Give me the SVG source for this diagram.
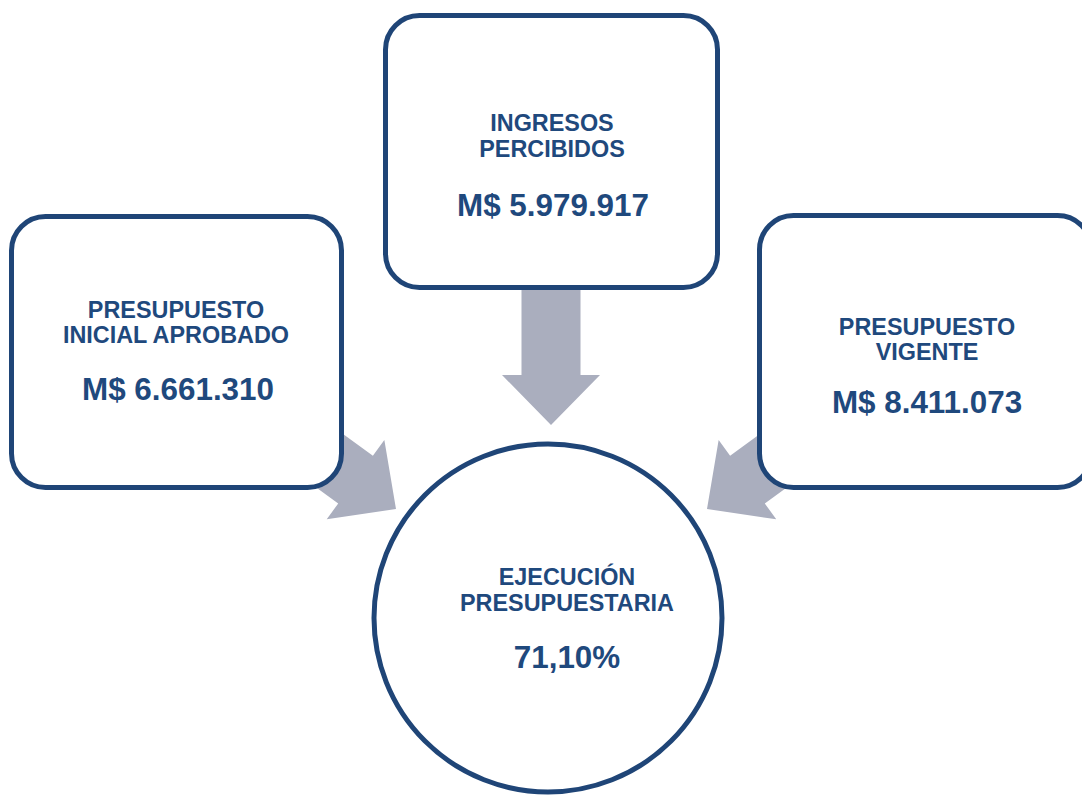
<svg xmlns="http://www.w3.org/2000/svg" width="1082" height="799" viewBox="0 0 1082 799">
<defs>
<style>
.box{fill:#ffffff;stroke:#1f4577;stroke-width:5}
.arrow{fill:#aaaebe}
.t{font-family:"Liberation Sans",Arial,sans-serif;font-weight:bold;fill:#1f497d;text-anchor:middle}
.lbl{font-size:23.4px}
.val{font-size:31.4px}
</style>
<polygon id="arr" points="0,0 -50,-49 -50,-29.5 -140,-29.5 -140,29.5 -50,29.5 -50,49"/>
</defs>
<rect width="1082" height="799" fill="#ffffff"/>
<g id="connectors">
<use href="#arr" class="arrow" transform="translate(551,425) rotate(90)"/>
<use href="#arr" class="arrow" transform="translate(396,509) rotate(36)"/>
<use href="#arr" class="arrow" transform="translate(707,509) rotate(144)"/>
</g>
<g id="node-inicial">
<rect class="box" x="11.5" y="216.5" width="330" height="271" rx="34" ry="34"/>
<text class="t lbl" x="176" y="318">PRESUPUESTO</text>
<text class="t lbl" x="176" y="343">INICIAL APROBADO</text>
<text class="t val" x="178" y="400">M$ 6.661.310</text>
</g>
<g id="node-ingresos">
<rect class="box" x="385.5" y="15.5" width="332" height="272" rx="34" ry="34"/>
<text class="t lbl" x="552" y="131">INGRESOS</text>
<text class="t lbl" x="552" y="157">PERCIBIDOS</text>
<text class="t val" x="553" y="216">M$ 5.979.917</text>
</g>
<g id="node-vigente">
<rect class="box" x="759.5" y="215.5" width="332" height="272" rx="34" ry="34"/>
<text class="t lbl" x="927" y="335">PRESUPUESTO</text>
<text class="t lbl" x="927" y="360">VIGENTE</text>
<text class="t val" x="927" y="413">M$ 8.411.073</text>
</g>
<g id="node-ejecucion">
<circle class="box" cx="548" cy="618" r="174"/>
<text class="t lbl" x="567" y="585">EJECUCIÓN</text>
<text class="t lbl" x="567" y="611">PRESUPUESTARIA</text>
<text class="t val" x="567" y="668">71,10%</text>
</g>
</svg>
